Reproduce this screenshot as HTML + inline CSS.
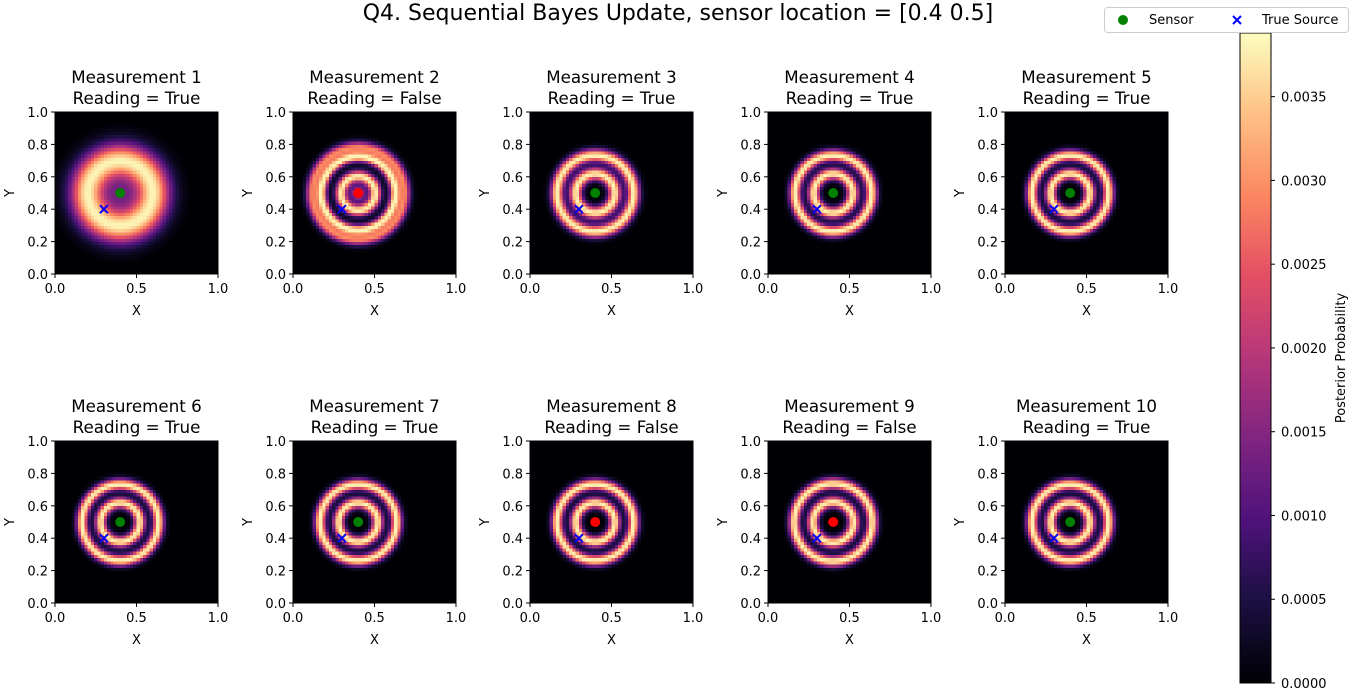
<!DOCTYPE html>
<html><head><meta charset="utf-8"><style>
body{margin:0;width:1356px;height:696px;background:#fff;overflow:hidden;font-family:"DejaVu Sans","Liberation Sans",sans-serif;}
svg{position:absolute;left:0;top:0;}
text{font-family:"DejaVu Sans","Liberation Sans",sans-serif;}
</style></head><body>
<svg id="chart" width="1356" height="696">
<defs>
<linearGradient id="cbg" x1="0" y1="1" x2="0" y2="0">
<stop offset="0" stop-color="#000004"/><stop offset="0.13" stop-color="#1c1044"/><stop offset="0.25" stop-color="#4f127b"/><stop offset="0.38" stop-color="#812581"/><stop offset="0.5" stop-color="#b5367a"/><stop offset="0.63" stop-color="#e55064"/><stop offset="0.75" stop-color="#fb8761"/><stop offset="0.88" stop-color="#fec287"/><stop offset="1" stop-color="#fcfdbf"/>
</linearGradient>
</defs>
<text x="678" y="20" font-size="22" text-anchor="middle">Q4. Sequential Bayes Update, sensor location = [0.4 0.5]</text>
<rect x="1240" y="33" width="31" height="650" fill="url(#cbg)" stroke="#000"/>
<text x="0" y="0" font-size="13" text-anchor="middle" transform="translate(1345,358) rotate(-90)">Posterior Probability</text>
<g>
<rect x="1104.5" y="7.5" width="244" height="25" rx="3" fill="#fff" stroke="#ccc"/>
<circle cx="1123" cy="20" r="5" fill="#008000"/>
<text x="1149" y="24" font-size="13">Sensor</text>
<path d="M1233,16L1241,24M1233,24L1241,16" stroke="#0000ff" stroke-width="2"/>
<text x="1262" y="24" font-size="13">True Source</text>
</g>
<g id="cbticks"></g>
<g id="panels"></g>
</svg>
<script>
const readings=[true,false,true,true,true,true,true,false,false,true];
const sensorLoc=[0.4,0.5];
const sourceLoc=[0.3,0.4];
// per panel ring components: [radius, sigma, amplitude]
const rings=[
 [[0.2,0.075,1],[0,0.07,0.3]],
 [[0.105,0.025,1],[0.225,0.022,1],[0.285,0.025,0.75],[0,0.035,0.55]],
 [[0.12,0.027,1],[0.235,0.027,1]],
 [[0.12,0.025,1],[0.235,0.025,1]],
 [[0.12,0.024,1],[0.235,0.024,1]],
 [[0.12,0.024,1],[0.235,0.024,1]],
 [[0.12,0.024,1],[0.235,0.024,1]],
 [[0.12,0.024,1],[0.235,0.024,1]],
 [[0.125,0.024,1],[0.24,0.024,1]],
 [[0.12,0.024,1],[0.235,0.024,1]]
];
const peakProb=0.0038;
const cbMax=0.00388;
const cbTicks=[0,0.0005,0.001,0.0015,0.002,0.0025,0.003,0.0035];
const xTicks=[0,0.5,1.0];
const yTicks=[0,0.2,0.4,0.6,0.8,1.0];
const GRID=50;

const MAGMA=[[0,0,0,4],[0.13,28,16,68],[0.25,79,18,123],[0.38,129,37,129],[0.5,181,54,122],[0.63,229,80,100],[0.75,251,135,97],[0.88,254,194,135],[1,252,253,191]];
function cmap(t){
  t=Math.max(0,Math.min(1,t));
  for(let i=1;i<MAGMA.length;i++){
    if(t<=MAGMA[i][0]){
      const a=MAGMA[i-1],b=MAGMA[i],f=(t-a[0])/(b[0]-a[0]);
      return 'rgb('+Math.round(a[1]+f*(b[1]-a[1]))+','+Math.round(a[2]+f*(b[2]-a[2]))+','+Math.round(a[3]+f*(b[3]-a[3]))+')';
    }
  }
  return 'rgb(252,253,191)';
}
const SVGNS='http://www.w3.org/2000/svg';
function mk(tag,attrs,parent,text){
  const e=document.createElementNS(SVGNS,tag);
  for(const k in attrs)e.setAttribute(k,attrs[k]);
  if(text!==undefined)e.textContent=text;
  parent.appendChild(e);
  return e;
}
const PW=163,PH=162;
const colX=[55,293,530,768,1005];
const rowY=[112,441];
const panelsG=document.getElementById('panels');

for(let p=0;p<10;p++){
  try{
  const ox=colX[p%5],oy=rowY[Math.floor(p/5)];
  const sx=function(v){return ox+v*PW;};
  const sy=function(v){return oy+PH-v*PH;};
  const g=mk('g',{},panelsG);
  
  
  const hm=mk('g',{'shape-rendering':'crispEdges'},g);
  
  
  mk('rect',{x:ox,y:oy,width:PW,height:PH,fill:'#000004'},hm);
  const cw=PW/GRID,ch=PH/GRID;
  for(let j=0;j<GRID;j++){
    for(let i=0;i<GRID;i++){
      const x=(i+0.5)/GRID,y=(j+0.5)/GRID;
      const d=Math.sqrt((x-sensorLoc[0])*(x-sensorLoc[0])+(y-sensorLoc[1])*(y-sensorLoc[1]));
      let v=0;
      for(const r of rings[p])v+=r[2]*Math.exp(-(d-r[0])*(d-r[0])/(2*r[1]*r[1]));
      v=Math.min(1,v)*peakProb;
      if(v/cbMax<0.01)continue;
      mk('rect',{x:(ox+i*cw).toFixed(2),y:(oy+PH-(j+1)*ch).toFixed(2),width:(cw+0.4).toFixed(2),height:(ch+0.4).toFixed(2),fill:cmap(v/cbMax)},hm);
    }
  }
  mk('rect',{x:ox,y:oy,width:PW,height:PH,fill:'none',stroke:'#000','stroke-width':1},g);
  const dot=mk('circle',{cx:sx(sensorLoc[0]),cy:sy(sensorLoc[1]),r:5,fill:readings[p]?'#008000':'#ff0000'},g);
  
  
  const tx=sx(sourceLoc[0]),ty=sy(sourceLoc[1]);
  const xm=mk('path',{d:'M'+(tx-4)+','+(ty-4)+'L'+(tx+4)+','+(ty+4)+'M'+(tx-4)+','+(ty+4)+'L'+(tx+4)+','+(ty-4),stroke:'#0000ff','stroke-width':2},g);
  
  
  for(const t of xTicks){
    mk('line',{x1:sx(t),x2:sx(t),y1:oy+PH,y2:oy+PH+4,stroke:'#000'},g);
    const lb=mk('text',{x:sx(t),y:oy+PH+19,'font-size':13,'text-anchor':'middle'},g,t.toFixed(1));
    
    
  }
  for(const t of yTicks){
    mk('line',{x1:ox-4,x2:ox,y1:sy(t),y2:sy(t),stroke:'#000'},g);
    const lb=mk('text',{x:ox-7,y:sy(t)+5,'font-size':13,'text-anchor':'end'},g,t.toFixed(1));
    
    
  }
  const xl=mk('text',{x:ox+PW/2,y:oy+PH+41,'font-size':13,'text-anchor':'middle'},g,'X');
  
  
  const yl=mk('text',{x:0,y:0,'font-size':13,'text-anchor':'middle',transform:'translate('+(ox-41)+','+(oy+PH/2)+') rotate(-90)'},g,'Y');
  
  
  const t1=mk('text',{x:ox+PW/2,y:oy-29,'font-size':16.7,'text-anchor':'middle'},g,'Measurement '+(p+1));
  
  
  const t2=mk('text',{x:ox+PW/2,y:oy-8,'font-size':16.7,'text-anchor':'middle'},g,'Reading = '+(readings[p]?'True':'False'));
  
  
  }catch(e){}
}
try{
const cbG=document.getElementById('cbticks');
for(const t of cbTicks){
  const y=33+650-t/cbMax*650;
  mk('line',{x1:1271,x2:1275,y1:y,y2:y,stroke:'#000'},cbG);
  const lb=mk('text',{x:1281,y:y+5,'font-size':13},cbG,t.toFixed(4));
  
  
}
}catch(e){}
</script>
</body></html>
